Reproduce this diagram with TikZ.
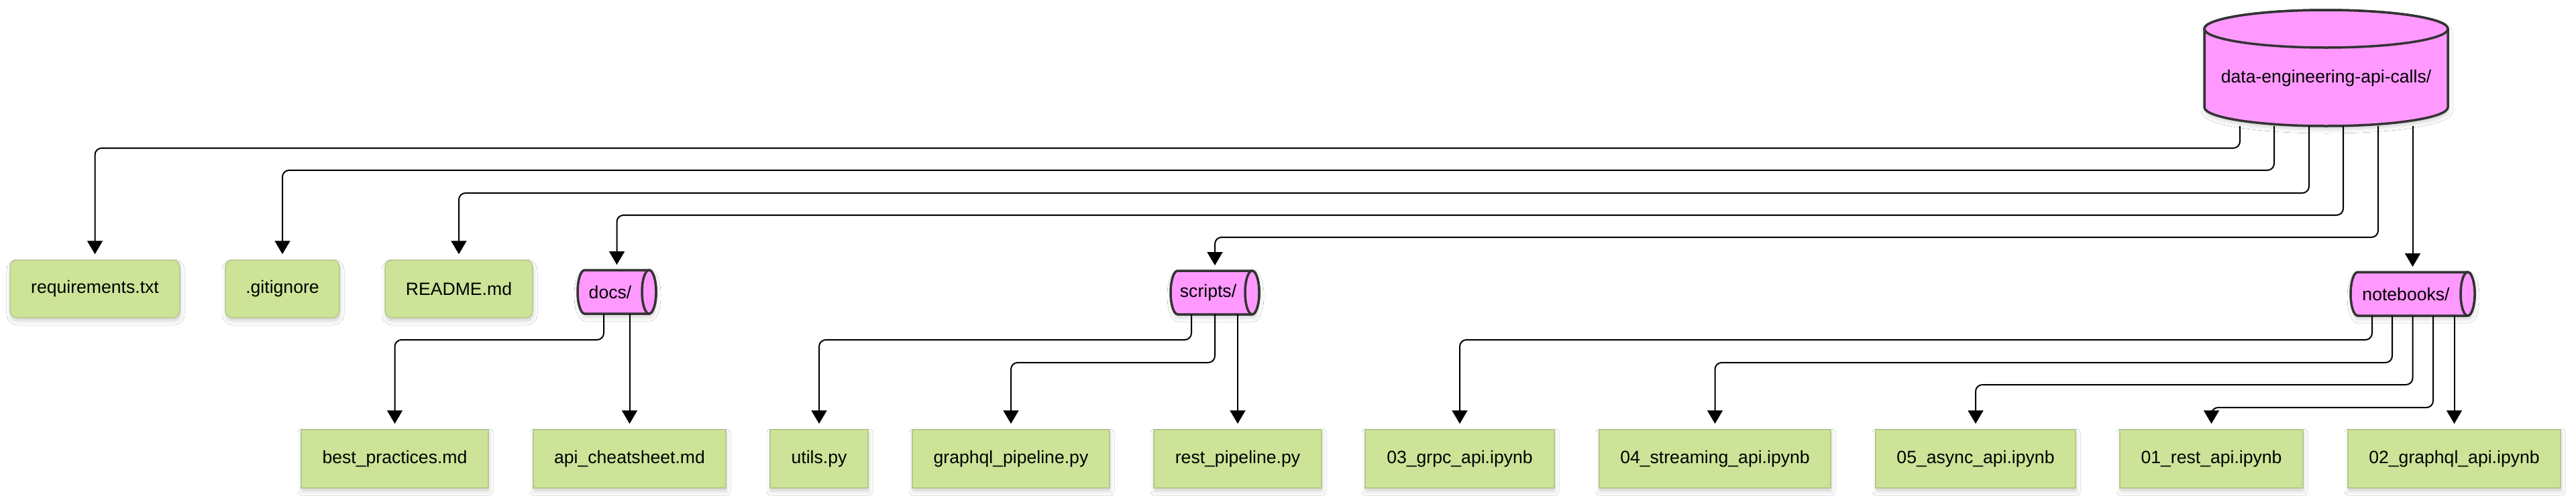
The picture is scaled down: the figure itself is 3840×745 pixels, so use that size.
\documentclass[tikz,border=0pt]{standalone}
\usepackage{fontspec}
\setmainfont{Liberation Sans}
\usetikzlibrary{arrows.meta,calc,shadows.blur}
\definecolor{pinkfill}{HTML}{FF99FF}
\definecolor{greenfill}{HTML}{CDE498}
\definecolor{greenline}{HTML}{B4C98E}
\definecolor{cylline}{HTML}{333333}
\tikzset{
  lbl/.style={font=\fontsize{26.6}{32}\selectfont, text=black, inner sep=0pt},
  softshadow/.style={blur shadow={shadow xshift=1pt, shadow yshift=-5pt, shadow blur radius=6pt, shadow opacity=18}},
  filebox/.style={draw=greenline, line width=1.5pt, fill=greenfill, inner sep=0pt,
    font=\fontsize{26.6}{32}\selectfont, softshadow},
  topfile/.style={filebox, rounded corners=10pt, minimum height=86pt},
  leaffile/.style={filebox, minimum height=87pt},
  cylpath/.style={draw=cylline, line width=3.5pt, fill=pinkfill},
  anchorbox/.style={draw=none, fill=none, inner sep=0pt, outer sep=0pt},
  conn/.style={draw=black, line width=2pt, rounded corners=10pt,
    -{Triangle[width=23pt,length=20pt]}, shorten >=8pt},
}
\newcommand\hcyl[6]{%
  \pgfmathsetmacro\hcA{#2+10.5}%
  \pgfmathsetmacro\hcB{#3-10.5}%
  \pgfmathsetmacro\hcR{(#5-#4)/2}%
  \pgfmathsetmacro\hcC{-(#4+#5)/2}%
  \pgfmathsetmacro\hcM{(#2+#3)/2}%
  \pgfmathsetmacro\hcW{#3-#2}%
  \pgfmathsetmacro\hcH{#5-#4}%
  \path[cylpath, softshadow] (\hcB,-#4) -- (\hcA,-#4)
    arc[start angle=90,end angle=270,x radius=10.5,y radius=\hcR]
    -- (\hcB,-#5)
    arc[start angle=-90,end angle=90,x radius=10.5,y radius=\hcR] -- cycle;
  \path[cylpath] (\hcB,\hcC) ellipse[x radius=10.5,y radius=\hcR];
  \node[anchorbox, minimum width=\hcW pt, minimum height=\hcH pt] (#1) at (\hcM,\hcC) {};
  \node[lbl] (#1-label) at ({\hcM-10},\hcC) {#6};
}
\begin{document}
\begin{tikzpicture}[x=1pt,y=1pt]
\fill[white] (0,0) rectangle (3840,-745);
\useasboundingbox (0,0) rectangle (3840,-745);

% root cylinder
\path[cylpath, softshadow] (3286,-43) -- (3286,-160)
  arc[start angle=180,end angle=360,x radius=181.5,y radius=28]
  -- (3649,-43)
  arc[start angle=0,end angle=180,x radius=181.5,y radius=28] -- cycle;
\path[cylpath] (3467.5,-43) ellipse[x radius=181.5,y radius=28];
\node[anchorbox, minimum width=363pt, minimum height=173pt] (root) at (3467.5,-101.5) {};
\node[lbl] (root-label) at (3467.5,-117) {data-engineering-api-calls/};

% top-level files
\node[topfile, minimum width=253pt] (req) at (141.5,-431) {requirements.txt};
\node[topfile, minimum width=170pt] (git) at (421,-431) {.gitignore};
\node[topfile, minimum width=220pt] (readme) at (684,-431) {README.md};

% folders
\hcyl{docs}{861}{978}{403}{468}{docs/}
\hcyl{scripts}{1745}{1877}{404}{469}{scripts/}
\hcyl{nb}{3504}{3689}{406}{471}{notebooks/}

% leaf files
\node[leaffile, minimum width=279pt] (best) at (588.5,-684.5) {best\_practices.md};
\node[leaffile, minimum width=287pt] (cheat) at (938.5,-684.5) {api\_cheatsheet.md};
\node[leaffile, minimum width=146pt] (utils) at (1221,-684.5) {utils.py};
\node[leaffile, minimum width=294pt] (gqlpipe) at (1507,-684.5) {graphql\_pipeline.py};
\node[leaffile, minimum width=250pt] (restpipe) at (1845,-684.5) {rest\_pipeline.py};
\node[leaffile, minimum width=282pt] (grpc) at (2176,-684.5) {03\_grpc\_api.ipynb};
\node[leaffile, minimum width=345pt] (stream) at (2556.5,-684.5) {04\_streaming\_api.ipynb};
\node[leaffile, minimum width=298pt] (async) at (2945,-684.5) {05\_async\_api.ipynb};
\node[leaffile, minimum width=273pt] (restnb) at (3296.5,-684.5) {01\_rest\_api.ipynb};
\node[leaffile, minimum width=317pt] (gqlnb) at (3658.5,-684.5) {02\_graphql\_api.ipynb};

% root connectors
\draw[conn] ($(root.south)+(-128.5,0)$) -- ++(0,-33) -| (req.north);
\draw[conn] ($(root.south)+(-77.5,0)$) -- ++(0,-66) -| (git.north);
\draw[conn] ($(root.south)+(-25.5,0)$) -- ++(0,-100) -| (readme.north);
\draw[conn] ($(root.south)+(25.5,0)$) -- ++(0,-133) -| (docs.north);
\draw[conn] ($(root.south)+(77.5,0)$) -- ++(0,-166) -| (scripts.north);
\draw[conn] (nb.north |- root.south) -- (nb.north);

% docs connectors
\draw[conn] ($(docs.south)+(-19.5,0)$) -- ++(0,-39) -| (best.north);
\draw[conn] (cheat.north |- docs.south) -- (cheat.north);

% scripts connectors
\draw[conn] ($(scripts.south)+(-35,0)$) -- ++(0,-38) -| (utils.north);
\draw[conn] (scripts.south) -- ++(0,-72) -| (gqlpipe.north);
\draw[conn] (restpipe.north |- scripts.south) -- (restpipe.north);

% notebooks connectors
\draw[conn] ($(nb.south)+(-60.5,0)$) -- ++(0,-36) -| (grpc.north);
\draw[conn] ($(nb.south)+(-30.5,0)$) -- ++(0,-70) -| (stream.north);
\draw[conn] (nb.south) -- ++(0,-103) -| (async.north);
\draw[conn] ($(nb.south)+(30.5,0)$) -- ++(0,-137) -| (restnb.north);
\draw[conn] (gqlnb.north |- nb.south) -- (gqlnb.north);
\end{tikzpicture}
\end{document}
